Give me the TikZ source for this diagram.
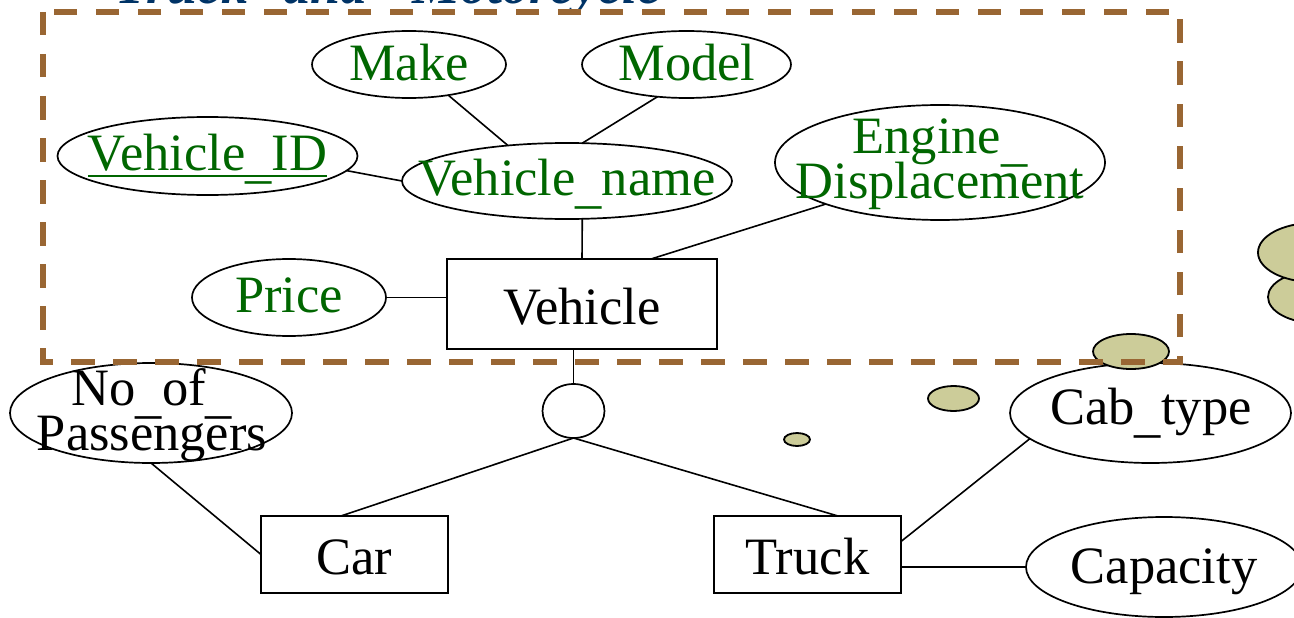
\documentclass[tikz,border=0pt]{standalone}
\usepackage{fontspec}
\setmainfont{Liberation Serif}
\usetikzlibrary{shapes.geometric,calc}
\definecolor{attrgreen}{RGB}{0,102,0}
\definecolor{framebrown}{RGB}{153,102,51}
\definecolor{titleblue}{RGB}{0,51,102}
\definecolor{bubblefill}{RGB}{204,204,153}
% low-set underscore used inside attribute names
\newcommand{\us}{\raisebox{-7pt}{\_}}
% key attribute: a thick underline between the baseline and the underscore
\newcommand{\keyline}[1]{\setbox0\hbox{#1}\rlap{\rule[-7.4pt]{\wd0}{2.7pt}}\box0}
\begin{document}
\begin{tikzpicture}[x=1pt,y=-1pt,
  attr/.style={ellipse, draw, line width=1.7pt, fill=white, inner sep=0pt, outer sep=0pt},
  entity/.style={rectangle, draw, line width=1.8pt, fill=white, inner sep=0pt, outer sep=0pt,
    font=\fontsize{52.5}{45}\selectfont, text height=40pt, text depth=0pt},
  lbl/.style={inner sep=0pt, outer sep=0pt, anchor=base, font=\fontsize{52.5}{45}\selectfont},
  keylbl/.style={lbl, text=attrgreen},
  link/.style={line width=1.6pt},
  bubble/.style={ellipse, draw, line width=1.8pt, fill=bubblefill, inner sep=0pt, outer sep=0pt},
]
\useasboundingbox (0,0) rectangle (1294,618);

% heading, mostly above the page
\node[anchor=base west, inner sep=0pt, text=titleblue,
  font=\fontsize{54}{54}\selectfont\bfseries\itshape] (title) at (115,4)
  {Truck\hspace{35pt}and\hspace{45pt}Motorcycle};

% entities and the specialisation circle
\node[entity, minimum width=270pt, minimum height=90pt] (vehicle) at (582,304) {Vehicle};
\node[entity, minimum width=187pt, minimum height=77pt] (car) at (354.5,554.5) {Car};
\node[entity, minimum width=187pt, minimum height=77pt] (truck) at (807.5,554.5) {Truck};
\node[attr, minimum width=62pt, minimum height=54pt] (isa) at (573.5,411) {};

% attribute ellipses
\node[attr, minimum width=194pt, minimum height=67pt] (make) at (409,64.5) {};
\node[attr, minimum width=209pt, minimum height=67pt] (model) at (686.5,64.5) {};
\node[attr, minimum width=300pt, minimum height=78pt] (vid) at (207.5,156) {};
\node[attr, minimum width=330pt, minimum height=76pt] (vname) at (567,181) {};
\node[attr, minimum width=330pt, minimum height=115pt] (engine) at (940,162.5) {};
\node[attr, minimum width=194pt, minimum height=77pt] (price) at (289,297.5) {};
\node[attr, minimum width=282pt, minimum height=100pt] (npass) at (151,413) {};
\node[attr, minimum width=281pt, minimum height=100pt] (cab) at (1150.5,413) {};
\node[attr, minimum width=276pt, minimum height=100pt] (cap) at (1164,567) {};

% connectors
\draw[link] (make.-38.7) -- (vname.149);
\draw[link] (model.-132.3) -- (vname.68.4);
\draw[link] (vid.-6.6) -- (vname.180);
\draw[link] (vname.-68.4) -- (vehicle.north);
\draw[link] (engine.-160.6) -- ([xshift=69pt]vehicle.north);
\draw[link] (price.east) -- (price.east -| vehicle.west);
\draw[link] (vehicle.south -| isa.north) -- (isa.north);
\draw[link] (isa.south) -- ([xshift=-13.5pt]car.north);
\draw[link] (isa.south) -- ([xshift=30.5pt]truck.north);
\draw[link] (npass.south) -- (car.west);
\draw[link] ([yshift=13pt]truck.east) -- (cab.-168.8);
\draw[link] (cap.west -| truck.east) -- (cap.west);

% attribute names
\node[keylbl] (make-t) at (409,81) {Make};
\node[keylbl] (model-t) at (687,81) {Model};
\node[keylbl] (vid-t) at (207.5,170) {\keyline{Vehicle\us ID}};
\node[keylbl] (vname-t) at (567,195) {Vehicle\us name};
\node[keylbl] (engine-t1) at (940,153) {Engine\us};
\node[keylbl] (engine-t2) at (940,198) {Displacement};
\node[keylbl] (price-t) at (289,312) {Price};
\node[lbl] (npass-t1) at (152,405) {No\us of\us};
\node[lbl] (npass-t2) at (152,450) {Passengers};
\node[lbl] (cab-t) at (1151,424) {Cab\us type};
\node[lbl] (cap-t) at (1164,583) {Capacity};

% thought-bubble trail on the right
\node[bubble, minimum width=96pt, minimum height=52pt] (b5) at (1316,297) {};
\node[bubble, minimum width=110pt, minimum height=59pt] (b4) at (1313,252.5) {};
\node[bubble, minimum width=76pt, minimum height=35pt] (b3) at (1131,351.5) {};
\node[bubble, minimum width=51pt, minimum height=25pt] (b2) at (953.5,398.5) {};
\node[bubble, minimum width=26pt, minimum height=13pt] (b1) at (797,439.5) {};

% dashed grouping frame
\coordinate (frame-nw) at (43,12);
\coordinate (frame-se) at (1180,362);
\draw[framebrown, line width=5.5pt, dash pattern=on 23.5pt off 18.5pt] (frame-nw) rectangle (frame-se);
\end{tikzpicture}
\end{document}
